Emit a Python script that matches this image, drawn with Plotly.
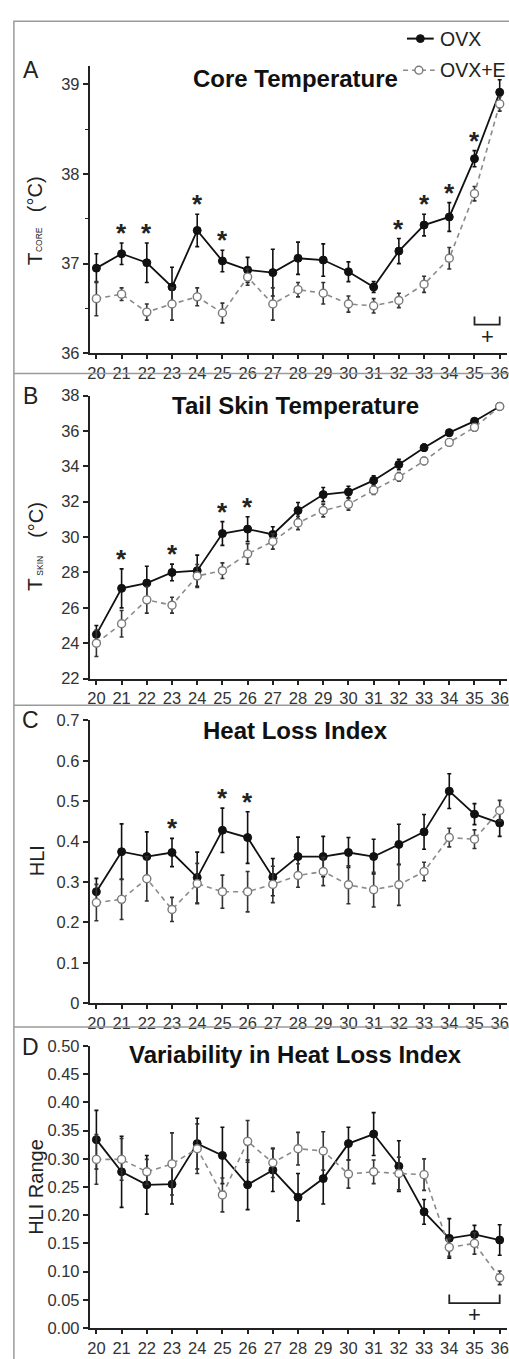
import plotly.graph_objects as go

# ---------------- data ----------------
days = list(range(20, 37))
tick_days = list(range(20, 37))

core_ovx = [36.95, 37.11, 37.01, 36.74, 37.37, 37.03, 36.93, 36.90, 37.06, 37.04, 36.91, 36.74, 37.14, 37.43, 37.52, 38.17, 38.91]
core_ovx_sem = [0.16, 0.12, 0.22, 0.22, 0.18, 0.12, 0.14, 0.26, 0.18, 0.18, 0.11, 0.06, 0.14, 0.12, 0.16, 0.09, 0.14]
core_e = [36.61, 36.66, 36.46, 36.55, 36.63, 36.45, 36.85, 36.55, 36.71, 36.67, 36.55, 36.53, 36.59, 36.77, 37.06, 37.78, 38.78]
core_e_sem = [0.19, 0.07, 0.09, 0.18, 0.10, 0.11, 0.09, 0.18, 0.08, 0.12, 0.09, 0.08, 0.08, 0.09, 0.12, 0.08, 0.08]
core_sig = [21, 22, 24, 25, 32, 33, 34, 35]

skin_ovx = [24.5, 27.1, 27.4, 28.0, 28.1, 30.2, 30.45, 30.15, 31.5, 32.4, 32.55, 33.2, 34.1, 35.05, 35.9, 36.55, 37.38]
skin_ovx_sem = [0.5, 1.1, 0.95, 0.47, 0.88, 0.67, 0.7, 0.43, 0.45, 0.4, 0.32, 0.26, 0.3, 0.2, 0.18, 0.12, 0.1]
skin_e = [24.0, 25.1, 26.45, 26.15, 27.8, 28.1, 29.05, 29.75, 30.8, 31.5, 31.85, 32.65, 33.4, 34.3, 35.35, 36.2, 37.38]
skin_e_sem = [0.75, 0.75, 0.75, 0.45, 0.65, 0.44, 0.58, 0.43, 0.38, 0.36, 0.33, 0.24, 0.25, 0.2, 0.2, 0.21, 0.1]
skin_sig = [21, 23, 25, 26]

hli_ovx = [0.276, 0.375, 0.363, 0.373, 0.311, 0.428, 0.410, 0.312, 0.363, 0.363, 0.373, 0.363, 0.393, 0.424, 0.525, 0.468, 0.446]
hli_ovx_sem = [0.033, 0.069, 0.061, 0.035, 0.063, 0.055, 0.064, 0.046, 0.048, 0.05, 0.037, 0.043, 0.05, 0.043, 0.043, 0.026, 0.033]
hli_e = [0.249, 0.257, 0.308, 0.232, 0.296, 0.276, 0.276, 0.294, 0.316, 0.326, 0.293, 0.281, 0.293, 0.326, 0.410, 0.406, 0.477]
hli_e_sem = [0.045, 0.05, 0.055, 0.03, 0.05, 0.041, 0.05, 0.045, 0.029, 0.035, 0.047, 0.043, 0.051, 0.023, 0.023, 0.023, 0.025]
hli_sig = [23, 25, 26]

rng_ovx = [0.334, 0.277, 0.254, 0.255, 0.327, 0.306, 0.254, 0.280, 0.232, 0.265, 0.327, 0.344, 0.287, 0.206, 0.159, 0.166, 0.156]
rng_ovx_sem = [0.052, 0.063, 0.052, 0.035, 0.045, 0.05, 0.044, 0.038, 0.042, 0.045, 0.029, 0.038, 0.045, 0.022, 0.035, 0.016, 0.027]
rng_e = [0.299, 0.299, 0.277, 0.291, 0.318, 0.236, 0.331, 0.293, 0.318, 0.314, 0.273, 0.277, 0.274, 0.272, 0.143, 0.150, 0.089]
rng_e_sem = [0.044, 0.037, 0.022, 0.055, 0.044, 0.03, 0.037, 0.026, 0.029, 0.034, 0.025, 0.021, 0.029, 0.028, 0.016, 0.019, 0.012]

# "+" brackets: (start day, end day, bracket level, tick top, label level)
core_bracket = (35, 36, 36.32, 36.41, 36.19)
rng_bracket = (34, 36, 0.044, 0.0595, 0.0245)

titles = ["Core Temperature", "Tail Skin Temperature", "Heat Loss Index", "Variability in Heat Loss Index"]
letters = ["A", "B", "C", "D"]
# y-axis titles: list of (text, font size, x px, y px) pieces, drawn rotated
ytitle_parts = [
    [("T", 21, 32, 253), ("CORE", 8.5, 36.5, 234), ("(°C)", 20, 32.5, 187.5)],
    [("T", 21, 32, 583), ("SKIN", 8.5, 36.5, 564), ("(°C)", 20, 32.5, 517.5)],
    [("HLI", 20, 34, 863)],
    [("HLI Range", 20, 34, 1194)],
]

# ---------------- layout geometry (pixels) ----------------
W, H = 509, 1359
FONT = "Liberation Sans, Arial, sans-serif"


def px(x):
    return x / W


def py(y):
    return 1 - y / H


panels = [
    dict(ovx=core_ovx, ovx_sem=core_ovx_sem, e=core_e, e_sem=core_e_sem, sig=core_sig,
         dom=(349, 58), rng=[36, 39.2], dtick=1, fmt=None, minor=0.5, title_y=70, letter_y=62),
    dict(ovx=skin_ovx, ovx_sem=skin_ovx_sem, e=skin_e, e_sem=skin_e_sem, sig=skin_sig,
         dom=(678.6, 391.7), rng=[22, 38], dtick=2, fmt=None, minor=None, title_y=402, letter_y=392),
    dict(ovx=hli_ovx, ovx_sem=hli_ovx_sem, e=hli_e, e_sem=hli_e_sem, sig=hli_sig,
         dom=(1007.5, 721), rng=[0, 0.7], dtick=0.1, fmt=None, minor=None, title_y=731, letter_y=721),
    dict(ovx=rng_ovx, ovx_sem=rng_ovx_sem, e=rng_e, e_sem=rng_e_sem, sig=[],
         dom=(1336.7, 1051), rng=[0, 0.5], dtick=0.05, fmt=".2f", minor=None, title_y=1060, letter_y=1052),
]

fig = go.Figure()
annotations = []
shapes = []

for i, p in enumerate(panels):
    n = "" if i == 0 else str(i + 1)
    xa, ya = "x" + n, "y" + n
    fig.add_trace(go.Scatter(
        x=days, y=p["ovx"], xaxis=xa, yaxis=ya, mode="lines+markers",
        line=dict(color="#111111", width=1.8),
        marker=dict(color="#111111", size=8, line=dict(color="#111111", width=1)),
        error_y=dict(type="data", array=p["ovx_sem"], color="#111111", thickness=1.6, width=2),
        cliponaxis=False, showlegend=False, name="OVX"))
    fig.add_trace(go.Scatter(
        x=days, y=p["e"], xaxis=xa, yaxis=ya, mode="lines+markers",
        line=dict(color="#8a8a8a", width=1.6, dash="5px,4px"),
        marker=dict(color="white", size=8, line=dict(color="#7a7a7a", width=1.4)),
        error_y=dict(type="data", array=p["e_sem"], color="#333333", thickness=1.6, width=2),
        cliponaxis=False, showlegend=False, name="OVX+E"))

    y0, y1 = p["dom"]
    fig.layout["xaxis" + n] = dict(
        domain=[px(87.7), 1.0], range=[19.74, 36.29], anchor=ya,
        tickmode="array", tickvals=tick_days, ticktext=[str(d) for d in tick_days],
        ticks="outside", ticklen=4, tickwidth=1.5, tickcolor="#222",
        ticklabeloverflow="allow",
        showline=True, linecolor="#222", linewidth=2,
        showgrid=False, zeroline=False,
        tickfont=dict(family=FONT, size=16.5, color="#333"))
    yax = dict(
        domain=[py(y0), py(y1)], range=p["rng"], anchor=xa,
        dtick=p["dtick"], tick0=0, ticks="outside", ticklen=5, tickwidth=1.5, tickcolor="#222",
        showline=True, linecolor="#222", linewidth=2,
        showgrid=False, zeroline=False,
        tickfont=dict(family=FONT, size=16.5, color="#333"))
    if p["fmt"]:
        yax["tickformat"] = p["fmt"]
    if p["minor"]:
        yax["minor"] = dict(dtick=p["minor"], ticks="outside", ticklen=3, tickwidth=1.2, tickcolor="#222")
    fig.layout["yaxis" + n] = yax

    # title, panel letter, y title
    annotations.append(dict(text="<b>" + titles[i] + "</b>", x=px(295), y=py(p["title_y"]),
                            xref="paper", yref="paper", showarrow=False, xanchor="center", yanchor="middle",
                            font=dict(family=FONT, size=24, color="#111")))
    annotations.append(dict(text=letters[i], x=px(28), y=py(p["letter_y"]),
                            xref="paper", yref="paper", showarrow=False, xanchor="center", yanchor="middle",
                            font=dict(family=FONT, size=23, color="#222")))
    for txt, fs, tx, ty in ytitle_parts[i]:
        annotations.append(dict(text=txt, x=px(tx), y=py(ty), textangle=-90,
                                xref="paper", yref="paper", showarrow=False, xanchor="center", yanchor="middle",
                                font=dict(family=FONT, size=fs, color="#222")))

    # significance asterisks
    for d in p["sig"]:
        k = days.index(d)
        annotations.append(dict(text="<b>*</b>", x=d, y=p["ovx"][k] + p["ovx_sem"][k],
                                xref=xa, yref=ya, showarrow=False, xanchor="center", yanchor="middle",
                                yshift=10, font=dict(family=FONT, size=26, color="#222")))


def add_bracket(b, xr, yr):
    d0, d1, lvl, top, lab = b
    shapes.append(dict(type="path", xref=xr, yref=yr,
                       path=f"M {d0},{top} L {d0},{lvl} L {d1},{lvl} L {d1},{top}",
                       line=dict(color="#222", width=1.8)))
    annotations.append(dict(text="+", x=(d0 + d1) / 2, y=lab, xref=xr, yref=yr, showarrow=False,
                            xanchor="center", yanchor="middle", font=dict(family=FONT, size=22, color="#222")))


add_bracket(core_bracket, "x", "y")
add_bracket(rng_bracket, "x4", "y4")

# frame and separators
shapes.append(dict(type="rect", xref="paper", yref="paper", x0=px(11), x1=1.05, y0=-0.05, y1=py(12.5),
                   line=dict(color="#9a9a9a", width=1.5)))
for sy in [369.5, 705.7, 1031.7]:
    shapes.append(dict(type="line", xref="paper", yref="paper", x0=px(11), x1=1.05, y0=py(sy), y1=py(sy),
                       line=dict(color="#9a9a9a", width=1.5)))

# legend (drawn manually)
shapes.append(dict(type="line", xref="paper", yref="paper", x0=px(408), x1=px(435), y0=py(30), y1=py(30),
                   line=dict(color="#111", width=2)))
shapes.append(dict(type="circle", xref="paper", yref="paper", x0=px(417.5), x1=px(425.5), y0=py(34), y1=py(26),
                   fillcolor="#111", line=dict(color="#111", width=1)))
shapes.append(dict(type="line", xref="paper", yref="paper", x0=px(404), x1=px(436), y0=py(62), y1=py(62),
                   line=dict(color="#8a8a8a", width=1.6, dash="5px,4px")))
shapes.append(dict(type="circle", xref="paper", yref="paper", x0=px(416), x1=px(424), y0=py(66), y1=py(58),
                   fillcolor="white", line=dict(color="#7a7a7a", width=1.4)))
annotations.append(dict(text="OVX", x=px(439), y=py(30), xref="paper", yref="paper", showarrow=False,
                        xanchor="left", yanchor="middle", font=dict(family=FONT, size=19.5, color="#222")))
annotations.append(dict(text="OVX+E", x=px(439), y=py(62), xref="paper", yref="paper", showarrow=False,
                        xanchor="left", yanchor="middle", font=dict(family=FONT, size=19.5, color="#222")))

fig.update_layout(
    width=W, height=H, margin=dict(l=0, r=0, t=0, b=0),
    paper_bgcolor="white", plot_bgcolor="white",
    showlegend=False, annotations=annotations, shapes=shapes,
    font=dict(family=FONT))

fig.write_html("out.html")
